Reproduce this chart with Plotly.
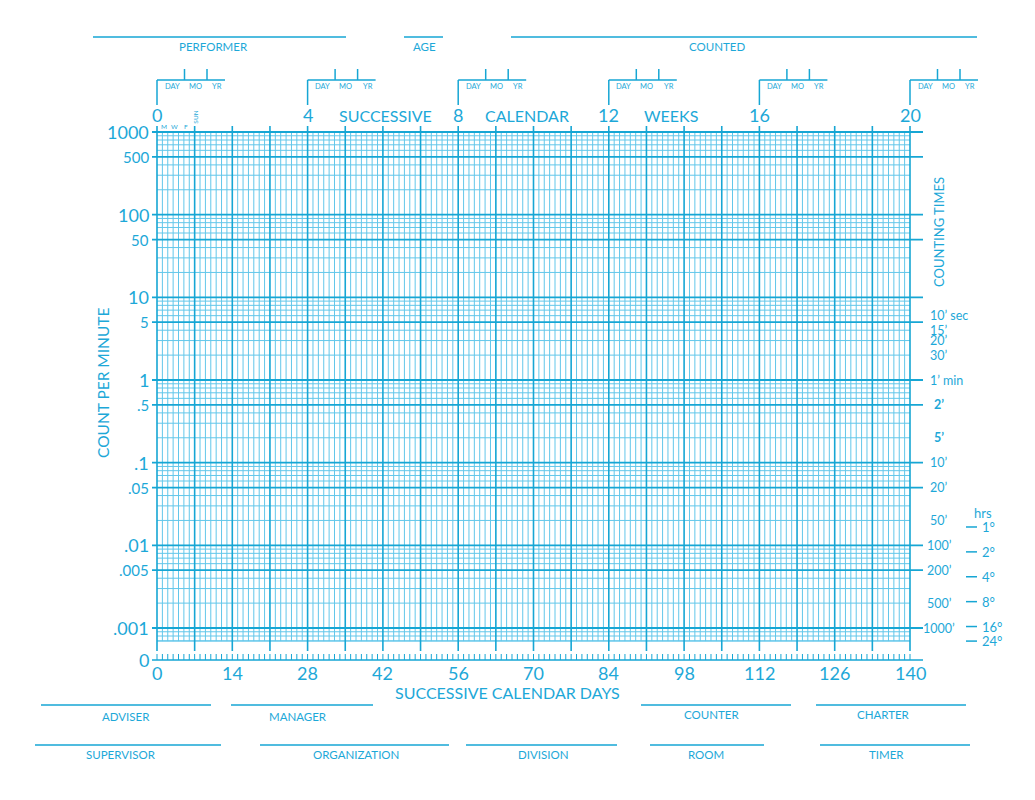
import numpy as np
import plotly.graph_objects as go

# ---------------- data (chart structure) ----------------
DAYS_TOTAL = 140
DAYS_PER_WEEK = 7
DAY_TICK_LABELS = [0, 14, 28, 42, 56, 70, 84, 98, 112, 126, 140]
WEEK_TICK_LABELS = [0, 4, 8, 12, 16, 20]
COUNT_MAX = 1000
COUNT_MIN = 1 / 1440          # one count per 24 hours
COUNT_TICK_VALUES = [1000, 500, 100, 50, 10, 5, 1, 0.5, 0.1, 0.05, 0.01, 0.005, 0.001]
COUNT_TICK_LABELS = ["1000", "500", "100", "50", "10", "5", "1", ".5", ".1", ".05", ".01", ".005", ".001"]
COUNT_MINOR_DIGITS = [2, 3, 4, 6, 7, 8, 9]
COUNTING_TIME_LABELS = ["10’ sec", "15’", "20’", "30’", "1’ min", "<b>2’</b>", "<b>5’</b>",
                        "10’", "20’", "50’", "100’", "200’", "500’", "1000’"]
COUNTING_TIME_MINUTES = [1 / 6, 1 / 4, 1 / 3, 1 / 2, 1, 2, 5, 10, 20, 50, 100, 200, 500, 1000]
HOUR_LABELS = ["1°", "2°", "4°", "8°", "16°", "24°"]
HOUR_VALUES = [1, 2, 4, 8, 16, 24]
WEEKDAY_LABELS = ["M", "W", "F"]
WEEKDAY_DAYS = [1, 3, 5]

# ---------------- layout constants ----------------
W, H = 1035, 800
X0_PX, X1_PX = 157, 910          # day 0 and day 140
YTOP_PX, YLOW_PX = 132, 628      # count 1000 and 0.001
PX_PER_DAY = (X1_PX - X0_PX) / DAYS_TOTAL
PX_PER_DEC = (YLOW_PX - YTOP_PX) / 6.0

MAJOR = "#16a6d4"
MINOR = "#62c7ea"
TEXT = "#1da8d8"
FONT = "Lato"


def px_day(px):
    return (px - X0_PX) / PX_PER_DAY


def px_count(py):
    return 10 ** (3 - (py - YTOP_PX) / PX_PER_DEC)


def day_px(d):
    return X0_PX + d * PX_PER_DAY


fig = go.Figure()


def add_segments(segs, color, width):
    xs, ys = [], []
    for x0, y0, x1, y1 in segs:
        xs += [x0, x1, None]
        ys += [y0, y1, None]
    fig.add_trace(go.Scatter(x=xs, y=ys, mode="lines", line=dict(color=color, width=width),
                             hoverinfo="skip", showlegend=False))


weeks = list(range(0, DAYS_TOTAL + 1, DAYS_PER_WEEK))
days = list(range(0, DAYS_TOTAL + 1))

# minor day lines
add_segments([(d, COUNT_MIN, d, COUNT_MAX) for d in days if d % DAYS_PER_WEEK], MINOR, 1)

# minor count lines
minor_vals = []
for k in range(-4, 3):
    for m in COUNT_MINOR_DIGITS:
        v = m * 10.0 ** k
        if COUNT_MIN <= v <= COUNT_MAX:
            minor_vals.append(v)
minor_vals.append(COUNT_MIN)
add_segments([(0, v, DAYS_TOTAL, v) for v in minor_vals], MINOR, 1)

# major count lines (extend as ticks on both sides)
add_segments([(px_day(152), v, px_day(923), v) for v in COUNT_TICK_VALUES], MAJOR, 1.8)

# weekly lines
add_segments([(d, px_count(651), d, px_count(126)) for d in weeks], MAJOR, 1.6)

# zero row
zero_y = px_count(660)
add_segments([(px_day(152), zero_y, px_day(923), zero_y)], MAJOR, 1.6)
add_segments([(d, px_count(654), d, zero_y) for d in days], MAJOR, 1)

# day / mo / yr brackets at each 4-week mark
br = []
for w in WEEK_TICK_LABELS:
    p = day_px(w * DAYS_PER_WEEK)
    br.append((px_day(p), px_count(80), px_day(p), px_count(105)))
    br.append((px_day(p), px_count(80), px_day(p + 68), px_count(80)))
    for off in (27.5, 50):
        br.append((px_day(p + off), px_count(69), px_day(p + off), px_count(80)))
add_segments(br, MAJOR, 1.5)

# hour dashes
add_segments([(px_day(966), 1 / (60 * h), px_day(977), 1 / (60 * h)) for h in HOUR_VALUES], MAJOR, 1.5)

ann = []


def A(text, x, y, size, xref="paper", yref="paper", xanchor="center", yanchor="middle", angle=0):
    ann.append(dict(text=text, x=x, y=y, xref=xref, yref=yref, xanchor=xanchor, yanchor=yanchor,
                    showarrow=False, textangle=angle, borderpad=0,
                    font=dict(family=FONT, size=size, color=TEXT)))


def P(px, py, text, size, **kw):
    A(text, px / W, 1 - py / H, size, **kw)


# left count labels
for v, lab in zip(COUNT_TICK_VALUES, COUNT_TICK_LABELS):
    big = lab in ("1000", "100", "10", "1", ".1", ".01", ".001")
    A(lab, 150 / W, np.log10(v), 18 if big else 15, yref="y", xanchor="right")
P(150, 660, "0", 18, xanchor="right")
P(103, 383, "COUNT PER MINUTE", 15.5, angle=-90)

# bottom day labels
for d in DAY_TICK_LABELS:
    A(str(d), d, 1 - 673 / H, 18, xref="x")
P(507, 692, "SUCCESSIVE CALENDAR DAYS", 16)

# top week labels
for w in WEEK_TICK_LABELS:
    A(str(w), w * DAYS_PER_WEEK, 1 - 115 / H, 18, xref="x")
P(385, 115, "SUCCESSIVE", 16)
P(527, 115, "CALENDAR", 16)
P(671, 115, "WEEKS", 16)
for w in WEEK_TICK_LABELS:
    p = day_px(w * DAYS_PER_WEEK)
    P(p + 15, 86.5, "DAY", 7.5)
    P(p + 38, 86.5, "MO", 7.5)
    P(p + 60, 86.5, "YR", 7.5)
for d, lab in zip(WEEKDAY_DAYS, WEEKDAY_DAYS and WEEKDAY_LABELS):
    A(lab, d + 0.3, 1 - 126.5 / H, 6.5, xref="x")
A("SUN", DAYS_PER_WEEK, 1 - 117 / H, 6.5, xref="x", angle=-90)

# right counting times
for m, lab in zip(COUNTING_TIME_MINUTES, COUNTING_TIME_LABELS):
    if "sec" in lab or "min" in lab:
        A(lab, 929 / W, np.log10(1 / m), 12.5, yref="y", xanchor="left")
    else:
        A(lab, 939 / W, np.log10(1 / m), 12.5, yref="y")
P(939, 232, "COUNTING TIMES", 13, angle=-90)
P(983, 513, "hrs", 13)
for h, lab in zip(HOUR_VALUES, HOUR_LABELS):
    A(lab, 981 / W, np.log10(1 / (60 * h)), 13, yref="y", xanchor="left")

# form fields
shapes = []


def field(x0, x1, ly, label, lx, ty):
    shapes.append(dict(type="line", xref="paper", yref="paper", x0=x0 / W, x1=x1 / W,
                       y0=1 - ly / H, y1=1 - ly / H, line=dict(color=MAJOR, width=1.3)))
    P(lx, ty, label, 11.5)


field(93, 346, 37, "PERFORMER", 213, 47)
field(404, 443, 37, "AGE", 424, 47)
field(511, 977, 37, "COUNTED", 717, 47)
field(41, 211, 705, "ADVISER", 126, 716)
field(231, 373, 705, "MANAGER", 298, 716)
field(641, 791, 705, "COUNTER", 711, 714)
field(816, 966, 705, "CHARTER", 883, 714)
field(35, 221, 745, "SUPERVISOR", 121, 754)
field(260, 449, 745, "ORGANIZATION", 356, 754)
field(466, 617, 745, "DIVISION", 543, 754)
field(650, 764, 745, "ROOM", 706, 754)
field(820, 970, 745, "TIMER", 886, 754)

fig.update_layout(
    width=W, height=H, autosize=False,
    margin=dict(l=0, r=0, t=0, b=0, pad=0),
    paper_bgcolor="white", plot_bgcolor="white",
    xaxis=dict(range=[px_day(0), px_day(W)], visible=False, fixedrange=True),
    yaxis=dict(type="log", range=[np.log10(px_count(H)), np.log10(px_count(0))],
               visible=False, fixedrange=True),
    annotations=ann, shapes=shapes, showlegend=False,
)
fig.write_html("out.html", config={"displayModeBar": False})
